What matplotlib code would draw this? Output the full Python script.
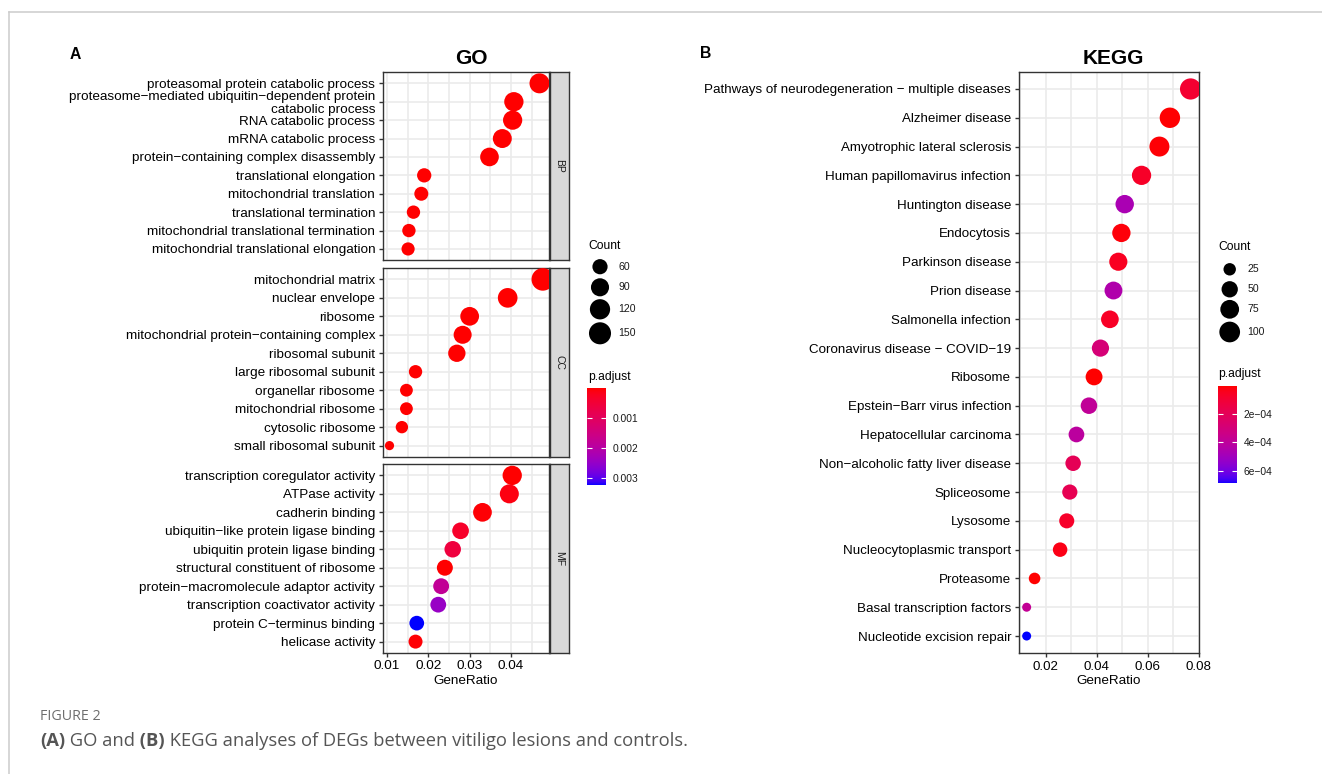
import numpy as np
import matplotlib
matplotlib.use("Agg")
import matplotlib.pyplot as plt
from matplotlib.colors import ListedColormap, Normalize
from matplotlib.cm import ScalarMappable
from matplotlib.lines import Line2D

plt.rcParams['font.family'] = ['Liberation Sans', 'DejaVu Sans']

W, H, DPI = 1322, 774, 100

# ---------------- GO data (top row first) ----------------
bp_terms = ["proteasomal protein catabolic process",
            "proteasome\u2212mediated ubiquitin\u2212dependent protein\ncatabolic process",
            "RNA catabolic process", "mRNA catabolic process",
            "protein\u2212containing complex disassembly", "translational elongation",
            "mitochondrial translation", "translational termination",
            "mitochondrial translational termination", "mitochondrial translational elongation"]
bp_ratio = [0.0469, 0.0407, 0.0404, 0.0379, 0.0348, 0.0190, 0.0183, 0.0164, 0.0153, 0.0151]
bp_count = [116, 106, 105, 101, 97, 53, 51, 47, 47, 46]
bp_padj = [3.1e-12, 5.4e-10, 2.2e-11, 8.7e-11, 1.6e-9, 4.1e-12, 6.3e-11, 2.7e-10, 1.2e-9, 8.5e-10]

cc_terms = ["mitochondrial matrix", "nuclear envelope", "ribosome",
            "mitochondrial protein\u2212containing complex", "ribosomal subunit",
            "large ribosomal subunit", "organellar ribosome", "mitochondrial ribosome",
            "cytosolic ribosome", "small ribosomal subunit"]
cc_ratio = [0.0477, 0.0392, 0.0300, 0.0283, 0.0269, 0.0169, 0.0147, 0.0147, 0.0136, 0.0106]
cc_count = [160, 111, 98, 89, 81, 47, 44, 44, 42, 35]
cc_padj = [7.2e-14, 3.3e-9, 1.8e-10, 5.6e-9, 2.4e-9, 4.8e-9, 6.1e-8, 7.7e-8, 9.3e-8, 2.1e-6]

mf_terms = ["transcription coregulator activity", "ATPase activity", "cadherin binding",
            "ubiquitin\u2212like protein ligase binding", "ubiquitin protein ligase binding",
            "structural constituent of ribosome", "protein\u2212macromolecule adaptor activity",
            "transcription coactivator activity", "protein C\u2212terminus binding",
            "helicase activity"]
mf_ratio = [0.0403, 0.0396, 0.0331, 0.0278, 0.0259, 0.0240, 0.0231, 0.0224, 0.0172, 0.0169]
mf_count = [106, 102, 98, 74, 72, 67, 66, 65, 56, 51]
mf_padj = [2.0e-6, 9.5e-5, 3.1e-5, 3.2e-4, 5.8e-4, 1.2e-5, 1.8e-3, 2.45e-3, 3.23e-3, 2.6e-5]

go_facets = ["BP", "CC", "MF"]
go_xticks = [0.01, 0.02, 0.03, 0.04]
go_xminor = [0.015, 0.025, 0.035, 0.045]
go_size_breaks = [60, 90, 120, 150]
go_p_ticks = [0.001, 0.002, 0.003]
go_p_labels = ["0.001", "0.002", "0.003"]

# ---------------- KEGG data ----------------
kegg_terms = ["Pathways of neurodegeneration \u2212 multiple diseases", "Alzheimer disease",
              "Amyotrophic lateral sclerosis", "Human papillomavirus infection",
              "Huntington disease", "Endocytosis", "Parkinson disease", "Prion disease",
              "Salmonella infection", "Coronavirus disease \u2212 COVID\u221219", "Ribosome",
              "Epstein\u2212Barr virus infection", "Hepatocellular carcinoma",
              "Non\u2212alcoholic fatty liver disease", "Spliceosome", "Lysosome",
              "Nucleocytoplasmic transport", "Proteasome", "Basal transcription factors",
              "Nucleotide excision repair"]
kegg_ratio = [0.0768, 0.0687, 0.0646, 0.0576, 0.0510, 0.0497, 0.0485, 0.0466, 0.0452, 0.0415,
              0.0390, 0.0370, 0.0321, 0.0308, 0.0295, 0.0283, 0.0257, 0.0157, 0.0126, 0.0126]
kegg_count = [107, 96, 90, 81, 71, 70, 68, 65, 63, 58, 55, 52, 45, 43, 41, 40, 36, 22, 18, 18]
kegg_padj = [8.9e-5, 5.1e-6, 7.4e-6, 6.6e-5, 4.7e-4, 1.4e-5, 5.2e-5, 4.5e-4, 6.1e-5, 2.9e-4,
             1.0e-6, 3.9e-4, 4.1e-4, 1.9e-4, 1.8e-4, 7.0e-5, 2.8e-5, 1.2e-6, 3.8e-4, 6.9e-4]
kegg_xticks = [0.02, 0.04, 0.06, 0.08]
kegg_xminor = [0.01, 0.03, 0.05, 0.07]
kegg_size_breaks = [25, 50, 75, 100]
kegg_p_ticks = [2e-4, 4e-4, 6e-4]
kegg_p_labels = ["2e\u221204", "4e\u221204", "6e\u221204"]


# red -> blue gradient interpolated in Lab, like ggplot
def srgb_to_lab(rgb):
    c = np.asarray(rgb, float)
    lin = np.where(c <= 0.04045, c / 12.92, ((c + 0.055) / 1.055) ** 2.4)
    M = np.array([[0.4124, 0.3576, 0.1805], [0.2126, 0.7152, 0.0722], [0.0193, 0.1192, 0.9505]])
    xyz = M @ lin / np.array([0.95047, 1.0, 1.08883])
    d = 6 / 29
    f = np.where(xyz > d ** 3, np.cbrt(xyz), xyz / (3 * d * d) + 4 / 29)
    return np.array([116 * f[1] - 16, 500 * (f[0] - f[1]), 200 * (f[1] - f[2])])


def lab_to_srgb(lab):
    L, a, b = lab
    fy = (L + 16) / 116
    f = np.array([fy + a / 500, fy, fy - b / 200])
    d = 6 / 29
    xyz = np.where(f > d, f ** 3, 3 * d * d * (f - 4 / 29)) * np.array([0.95047, 1.0, 1.08883])
    Minv = np.array([[3.2406, -1.5372, -0.4986], [-0.9689, 1.8758, 0.0415], [0.0557, -0.2040, 1.0570]])
    lin = np.clip(Minv @ xyz, 0, 1)
    return np.clip(np.where(lin <= 0.0031308, 12.92 * lin, 1.055 * lin ** (1 / 2.4) - 0.055), 0, 1)


lab_red, lab_blue = srgb_to_lab([1, 0, 0]), srgb_to_lab([0, 0, 1])
cmap = ListedColormap([lab_to_srgb(lab_red + (lab_blue - lab_red) * t) for t in np.linspace(0, 1, 256)])


def dot_area(count, cmin, cmax, dmin, dmax):
    t = np.clip((np.asarray(count, float) - cmin) / (cmax - cmin), 0, 1)
    d = dmin + (dmax - dmin) * np.sqrt(t)
    return (d * 72 / DPI) ** 2


fig = plt.figure(figsize=(W / DPI, H / DPI), dpi=DPI)


def px_axes(x0, y0, x1, y1):
    return fig.add_axes([x0 / W, 1 - y1 / H, (x1 - x0) / W, (y1 - y0) / H])


def style_frame(ax):
    for s in ax.spines.values():
        s.set_color('#333333')
        s.set_linewidth(1.0)


def dot_panel(ax, terms, ratio, count, padj, xlim, xmajor, xminor, size_kw, norm, fs=9.7):
    n = len(terms)
    y = np.arange(n)[::-1]
    ax.set_xlim(*xlim)
    ax.set_ylim(-0.6, n - 0.4)
    ax.set_xticks(xmajor)
    ax.set_xticks(xminor, minor=True)
    ax.set_yticks(y)
    ax.set_yticklabels(terms, linespacing=1.08)
    ax.grid(True, which='both', axis='x', color='#EBEBEB', lw=1.2)
    ax.grid(True, which='major', axis='y', color='#EBEBEB', lw=1.2)
    ax.set_axisbelow(True)
    ax.scatter(ratio, y, s=dot_area(count, **size_kw), c=padj, cmap=cmap, norm=norm,
               edgecolors='none', zorder=3)
    ax.tick_params(which='major', length=3.1, width=1.0, color='#333333', pad=2.5,
                   labelsize=fs, labelcolor='black')
    ax.tick_params(which='minor', length=0)
    style_frame(ax)


# ---------------- GO panel ----------------
go_all_count = bp_count + cc_count + mf_count
go_all_padj = bp_padj + cc_padj + mf_padj
go_norm = Normalize(min(go_all_padj), max(go_all_padj))
go_size = dict(cmin=min(go_all_count), cmax=max(go_all_count), dmin=9.2, dmax=22.6)
go_rows = [(72.3, 260.0), (268.3, 456.7), (464.3, 652.7)]
go_data = [(bp_terms, bp_ratio, bp_count, bp_padj),
           (cc_terms, cc_ratio, cc_count, cc_padj),
           (mf_terms, mf_ratio, mf_count, mf_padj)]
for (top, bot), facet, (terms, ratio, count, padj) in zip(go_rows, go_facets, go_data):
    ax = px_axes(383, top, 549, bot)
    dot_panel(ax, terms, ratio, count, padj, (0.00903, 0.0492), go_xticks, go_xminor, go_size, go_norm)
    if facet != "MF":
        ax.tick_params(axis='x', labelbottom=False, length=0)
    else:
        ax.set_xticklabels([f"{v:.2f}" for v in go_xticks])
        ax.set_xlabel("GeneRatio", fontsize=9.7, labelpad=1.5)
    st = px_axes(550, top, 569, bot)
    st.set_facecolor('#D9D9D9')
    st.set_xticks([])
    st.set_yticks([])
    style_frame(st)
    st.text(0.5, 0.5, facet, rotation=-90, ha='center', va='center', fontsize=7.5,
            color='#1A1A1A', transform=st.transAxes)

# ---------------- KEGG panel ----------------
kegg_norm = Normalize(min(kegg_padj), max(kegg_padj))
kegg_size = dict(cmin=min(kegg_count), cmax=max(kegg_count), dmin=9.0, dmax=21.2)
kax = px_axes(1019, 71.7, 1199, 653.3)
dot_panel(kax, kegg_terms, kegg_ratio, kegg_count, kegg_padj, (0.0096, 0.0801),
          kegg_xticks, kegg_xminor, kegg_size, kegg_norm, fs=9.6)
kax.set_xticklabels([f"{v:.2f}" for v in kegg_xticks])
kax.set_xlabel("GeneRatio", fontsize=9.7, labelpad=1.5)

# ---------------- overlay in pixel coordinates ----------------
lg = fig.add_axes([0, 0, 1, 1], zorder=-1)
lg.set_xlim(0, W)
lg.set_ylim(H, 0)
lg.axis('off')

# page frame
lg.add_line(Line2D([9, W], [12, 12], color='#CCCCCC', lw=1.1))
lg.add_line(Line2D([9, 9], [12, H], color='#CCCCCC', lw=1.1))

lg.text(70, 54.7, "A", fontsize=11.3, fontweight='bold', va='center', ha='left')
lg.text(700, 54, "B", fontsize=11.3, fontweight='bold', va='center', ha='left')
lg.text(471, 58.5, "GO", fontsize=15, fontweight='bold', va='center', ha='center')
lg.text(1113, 58.3, "KEGG", fontsize=15, fontweight='bold', va='center', ha='center')


def legend_block(x_title, y_title, dot_x, dot_ys, lab_x, breaks, size_kw,
                 y_ptitle, bar_box, lab_ticks, lab_text, norm):
    lg.text(x_title, y_title, "Count", fontsize=8.7, va='center', ha='left')
    lg.scatter([dot_x] * len(breaks), dot_ys, s=dot_area(breaks, **size_kw), color='black',
               edgecolors='none')
    for yy, b in zip(dot_ys, breaks):
        lg.text(lab_x, yy, str(b), fontsize=7.6, va='center', ha='left', color='#1A1A1A')
    lg.text(x_title, y_ptitle, "p.adjust", fontsize=8.7, va='center', ha='left')
    cax = px_axes(*bar_box)
    cb = fig.colorbar(ScalarMappable(norm=norm, cmap=cmap), cax=cax)
    cb.outline.set_visible(False)
    cax.invert_yaxis()
    cb.set_ticks(lab_ticks)
    cb.set_ticklabels(lab_text)
    cax.tick_params(axis='y', direction='in', length=3.5, width=0.8, color='white',
                    left=True, right=True, labelleft=False, labelright=True, pad=5.0,
                    labelsize=7.4, labelcolor='#1A1A1A')


legend_block(588.3, 246, 600, [266.7, 287.3, 309.3, 333.3], 618.5, go_size_breaks, go_size,
             376.7, (587.3, 388.3, 606, 485), go_p_ticks, go_p_labels, go_norm)
legend_block(1218.3, 247.3, 1229.7, [269.3, 289.3, 309.3, 332], 1247.5, kegg_size_breaks, kegg_size,
             374, (1218.3, 386, 1236.7, 483.3), kegg_p_ticks, kegg_p_labels, kegg_norm)

# ---------------- caption ----------------
cap_font = ['Open Sans', 'DejaVu Sans']
lg.text(40, 717, "FIGURE 2", fontsize=10.3, color='#6E6E6E', family=cap_font, va='center', ha='left')
renderer = fig.canvas.get_renderer()
x = 40
for part, weight in [("(A)", 'bold'), (" GO and", 'normal'), (" (B)", 'bold'),
                     (" KEGG analyses of DEGs between vitiligo lesions and controls.", 'normal')]:
    t = lg.text(x, 741, part, fontsize=13.2, color='#555555', family=cap_font, fontweight=weight,
                va='center', ha='left')
    x += t.get_window_extent(renderer=renderer).width

fig.savefig("out.png", dpi=DPI)
